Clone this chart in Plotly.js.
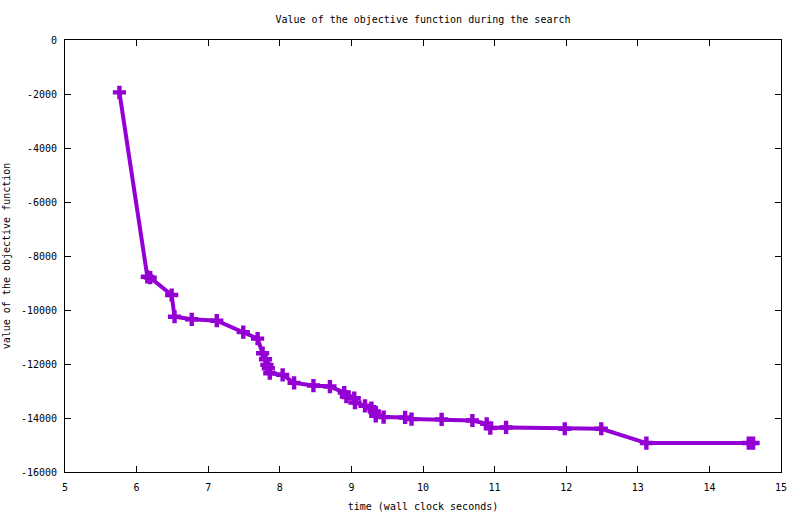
<!DOCTYPE html>
<html>
<head>
<meta charset="utf-8">
<script src="https://cdn.plot.ly/plotly-3.0.1.min.js"></script>
<style>html,body{margin:0;padding:0;background:#fff;}#chart{width:800px;height:514px;}</style>
</head>
<body>
<div id="chart"></div>
<script>
var timeSeconds = [5.76, 6.15, 6.19, 6.49, 6.53, 6.77, 7.12, 7.49, 7.69, 7.76, 7.80, 7.82, 7.84, 7.86, 8.04, 8.20, 8.47, 8.70, 8.90, 8.93, 9.04, 9.05, 9.19, 9.28, 9.32, 9.34, 9.45, 9.75, 9.84, 10.26, 10.69, 10.89, 10.94, 11.16, 11.98, 12.49, 13.12, 14.55, 14.61];
var objectiveValue = [-1940, -8770, -8800, -9445, -10250, -10345, -10396, -10820, -11060, -11600, -11822, -12033, -12155, -12340, -12403, -12700, -12798, -12835, -13057, -13205, -13265, -13427, -13549, -13635, -13760, -13919, -13967, -13980, -14041, -14050, -14092, -14214, -14373, -14350, -14399, -14399, -14928, -14928, -14928];
var xTicks = [5, 6, 7, 8, 9, 10, 11, 12, 13, 14, 15];
var yTicks = [0, -2000, -4000, -6000, -8000, -10000, -12000, -14000, -16000];

var font = {family: 'DejaVu Sans Mono, monospace', size: 10, color: '#000'};

var trace = {
  x: timeSeconds,
  y: objectiveValue,
  mode: 'lines+markers',
  type: 'scatter',
  line: {color: '#9400D3', width: 4},
  marker: {symbol: 'cross', size: 11, color: '#9400D3', line: {width: 0}},
  showlegend: false,
  hoverinfo: 'none'
};

var layout = {
  width: 800, height: 514,
  margin: {l: 64.5, r: 18.5, t: 39.5, b: 41.7, pad: 0},
  paper_bgcolor: '#fff', plot_bgcolor: '#fff',
  font: font,
  title: {text: 'Value of the objective function during the search', font: font,
          x: 0.5, xanchor: 'center', y: 1 - 19/514, yanchor: 'middle', xref: 'paper', yref: 'container'},
  xaxis: {
    range: [5, 15], tickvals: xTicks, ticktext: xTicks.map(String),
    showgrid: false, zeroline: false, showline: true, linecolor: '#000', linewidth: 1, mirror: 'ticks',
    ticks: 'inside', ticklen: 6, tickcolor: '#000', tickfont: font, ticklabelstandoff: 6,
    title: {text: 'time (wall clock seconds)', font: font, standoff: 10}
  },
  yaxis: {
    range: [-16000, 0], tickvals: yTicks, ticktext: yTicks.map(function(v){return v === 0 ? '0' : '-' + Math.abs(v);}),
    showgrid: false, zeroline: false, showline: true, linecolor: '#000', linewidth: 1, mirror: 'ticks',
    ticks: 'inside', ticklen: 6, tickcolor: '#000', tickfont: font, ticklabelstandoff: 5,
    title: {text: 'value of the objective function', font: font, standoff: 8}
  }
};

Plotly.newPlot('chart', [trace], layout, {staticPlot: true, displayModeBar: false});
</script>
</body>
</html>
